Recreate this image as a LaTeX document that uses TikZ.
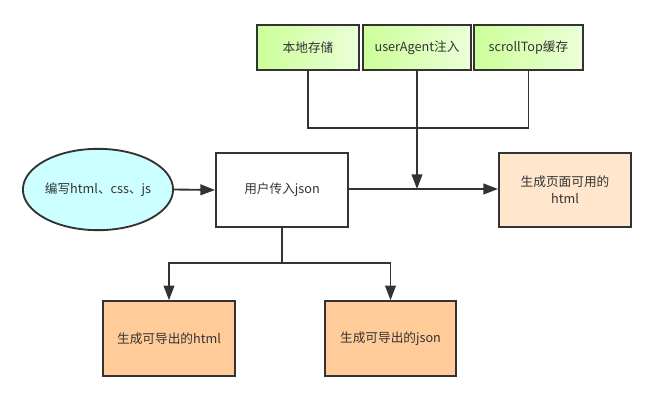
\documentclass[tikz,border=0pt]{standalone}
\usepackage{fontspec}
\setmainfont{Noto Sans CJK SC}
\definecolor{lineGray}{RGB}{51,51,51}
\definecolor{greenL}{RGB}{204,255,153}
\definecolor{greenR}{RGB}{235,255,215}
\definecolor{cyanFill}{RGB}{204,255,255}
\definecolor{peachFill}{RGB}{255,204,153}
\definecolor{paleFill}{RGB}{255,230,204}
\usetikzlibrary{arrows.meta,shapes.geometric}

\begin{document}
\begin{tikzpicture}[x=0.75pt, y=-0.75pt,
    every node/.style={font=\fontsize{9.5}{13}\selectfont, text=lineGray, align=center},
    box/.style={draw=lineGray, line width=1.4pt, rectangle, inner sep=2pt},
    greenbox/.style={box, left color=greenL, right color=greenR, minimum height=34pt},
    link/.style={draw=lineGray, line width=1.4pt},
    arrow/.style={link, -{Triangle[length=11pt, width=8pt]}}]
    \useasboundingbox (0,0) rectangle (655,400);

    % Top inputs
    \node[greenbox, minimum width=76.5pt] (local) at (308,47.5) {本地存储};
    \node[greenbox, minimum width=81pt] (ua) at (417,47.5) {userAgent注入};
    \node[greenbox, minimum width=82pt] (scroll) at (528.5,47.5) {scrollTop缓存};

    % Middle row
    \node[ellipse, draw=lineGray, line width=1.4pt, fill=cyanFill,
          minimum width=111pt, minimum height=61pt, inner sep=0pt] (src) at (98,189.5) {编写html、css、js};
    \node[box, fill=white, minimum width=99pt, minimum height=55.5pt] (user) at (282,190) {用户传入json};
    \node[box, fill=paleFill, minimum width=99pt, minimum height=55.5pt] (page) at (565,190) {生成页面可用的\\html};

    % Bottom outputs
    \node[box, fill=peachFill, minimum width=99pt, minimum height=56pt] (exhtml) at (169,338.5) {生成可导出的html};
    \node[box, fill=peachFill, minimum width=98pt, minimum height=56pt] (exjson) at (390.5,338.5) {生成可导出的json};

    % Helper points
    \coordinate (join) at (417,189);
    \coordinate (split) at (282,263);

    % Connectors
    \draw[link] (local.south) |- (417,128) -| (scroll.south);
    \draw[arrow] (ua.south) -- (join);
    \draw[arrow] (src.east) -- (user.west);
    \draw[arrow] (user.east |- join) -- (page.west |- join);
    \draw[link] (user.south) -- (split);
    \draw[arrow] (split) -| (exhtml.north);
    \draw[arrow] (split) -| (exjson.north);
\end{tikzpicture}
\end{document}
